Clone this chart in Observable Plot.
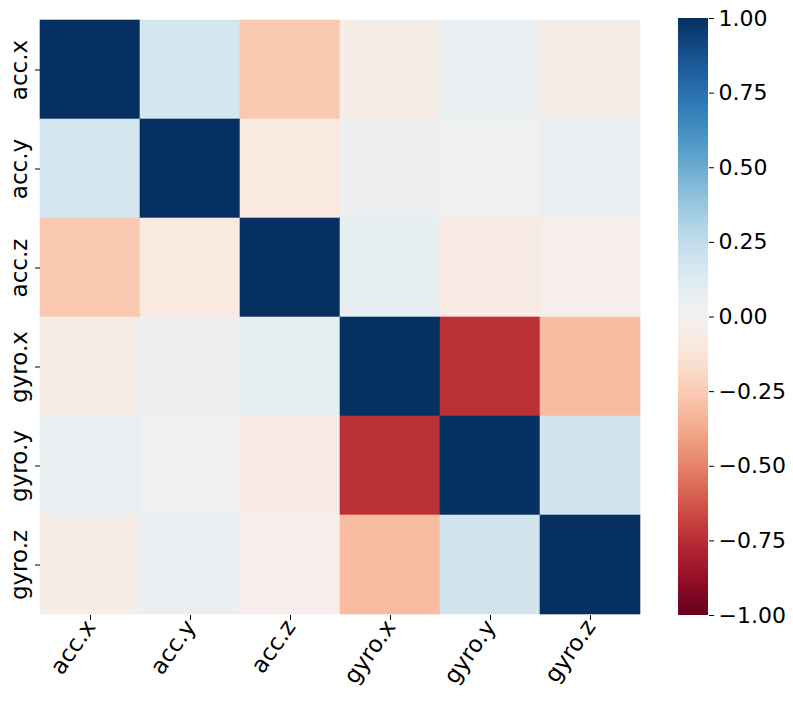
<!DOCTYPE html>
<html>
<head>
<meta charset="utf-8">
<script src="https://cdn.jsdelivr.net/npm/d3@7"></script>
<script src="https://cdn.jsdelivr.net/npm/@observablehq/plot@0.6"></script>
<style>
  html, body { margin: 0; padding: 0; background: #fff; }
  #chart { position: relative; width: 793px; height: 701px; }
  #chart > svg { position: absolute; top: 0; }
</style>
</head>
<body>
<div id="chart"></div>
<script>
const labels = ["acc.x", "acc.y", "acc.z", "gyro.x", "gyro.y", "gyro.z"];
const rowAccX  = [1.00, 0.17, -0.26, -0.05, 0.06, -0.05];
const rowAccY  = [0.17, 1.00, -0.09, 0.04, 0.02, 0.05];
const rowAccZ  = [-0.26, -0.09, 1.00, 0.08, -0.07, -0.03];
const rowGyroX = [-0.05, 0.04, 0.08, 1.00, -0.74, -0.31];
const rowGyroY = [0.06, 0.02, -0.07, -0.74, 1.00, 0.18];
const rowGyroZ = [-0.05, 0.05, -0.03, -0.31, 0.18, 1.00];
const colorTicks = [-1, -0.75, -0.5, -0.25, 0, 0.25, 0.5, 0.75, 1];

const rows = [rowAccX, rowAccY, rowAccZ, rowGyroX, rowGyroY, rowGyroZ];
const cells = [];
rows.forEach((r, i) => r.forEach((v, j) => cells.push({row: labels[i], col: labels[j], value: v})));

const colorOpts = {type: "linear", scheme: "rdbu", domain: [-1, 1]};
const font = {fontFamily: "DejaVu Sans", fontSize: "22px", color: "#000", background: "transparent", overflow: "visible"};

const main = Plot.plot({
  width: 640, height: 701,
  marginLeft: 40, marginRight: 0, marginTop: 18, marginBottom: 86,
  style: font,
  x: {domain: labels, padding: 0, label: null},
  y: {domain: labels, padding: 0, label: null},
  color: colorOpts,
  marks: [
    Plot.cell(cells, {x: "col", y: "row", fill: "value", inset: -0.3}),
    Plot.axisX({tickSize: 5, tickRotate: -55, tickPadding: 2, fontSize: 23, label: null}),
    Plot.axisY({tickSize: 5, text: null, label: null}),
    Plot.text(labels, {y: d => d, frameAnchor: "left", dx: -14, rotate: -90, textAnchor: "middle", lineAnchor: "bottom", fontSize: 23, fill: "#000"})
  ]
});
main.style.left = "0px";

const stops = d3.range(-1, 1, 0.005);
const bar = Plot.plot({
  width: 153, height: 701,
  marginLeft: 38, marginRight: 85, marginTop: 18, marginBottom: 86,
  style: font,
  y: {domain: [-1, 1], label: null},
  color: colorOpts,
  marks: [
    Plot.rect(stops, {y1: d => d, y2: d => Math.min(1, d + 0.01), fill: d => d + 0.0025, shapeRendering: "crispEdges"}),
    Plot.axisY({anchor: "right", ticks: colorTicks, tickFormat: d3.format(".2f"), tickSize: 5, tickPadding: 5, fontSize: 22, label: null})
  ]
});
bar.style.left = "640px";

document.getElementById("chart").append(main, bar);
</script>
</body>
</html>
